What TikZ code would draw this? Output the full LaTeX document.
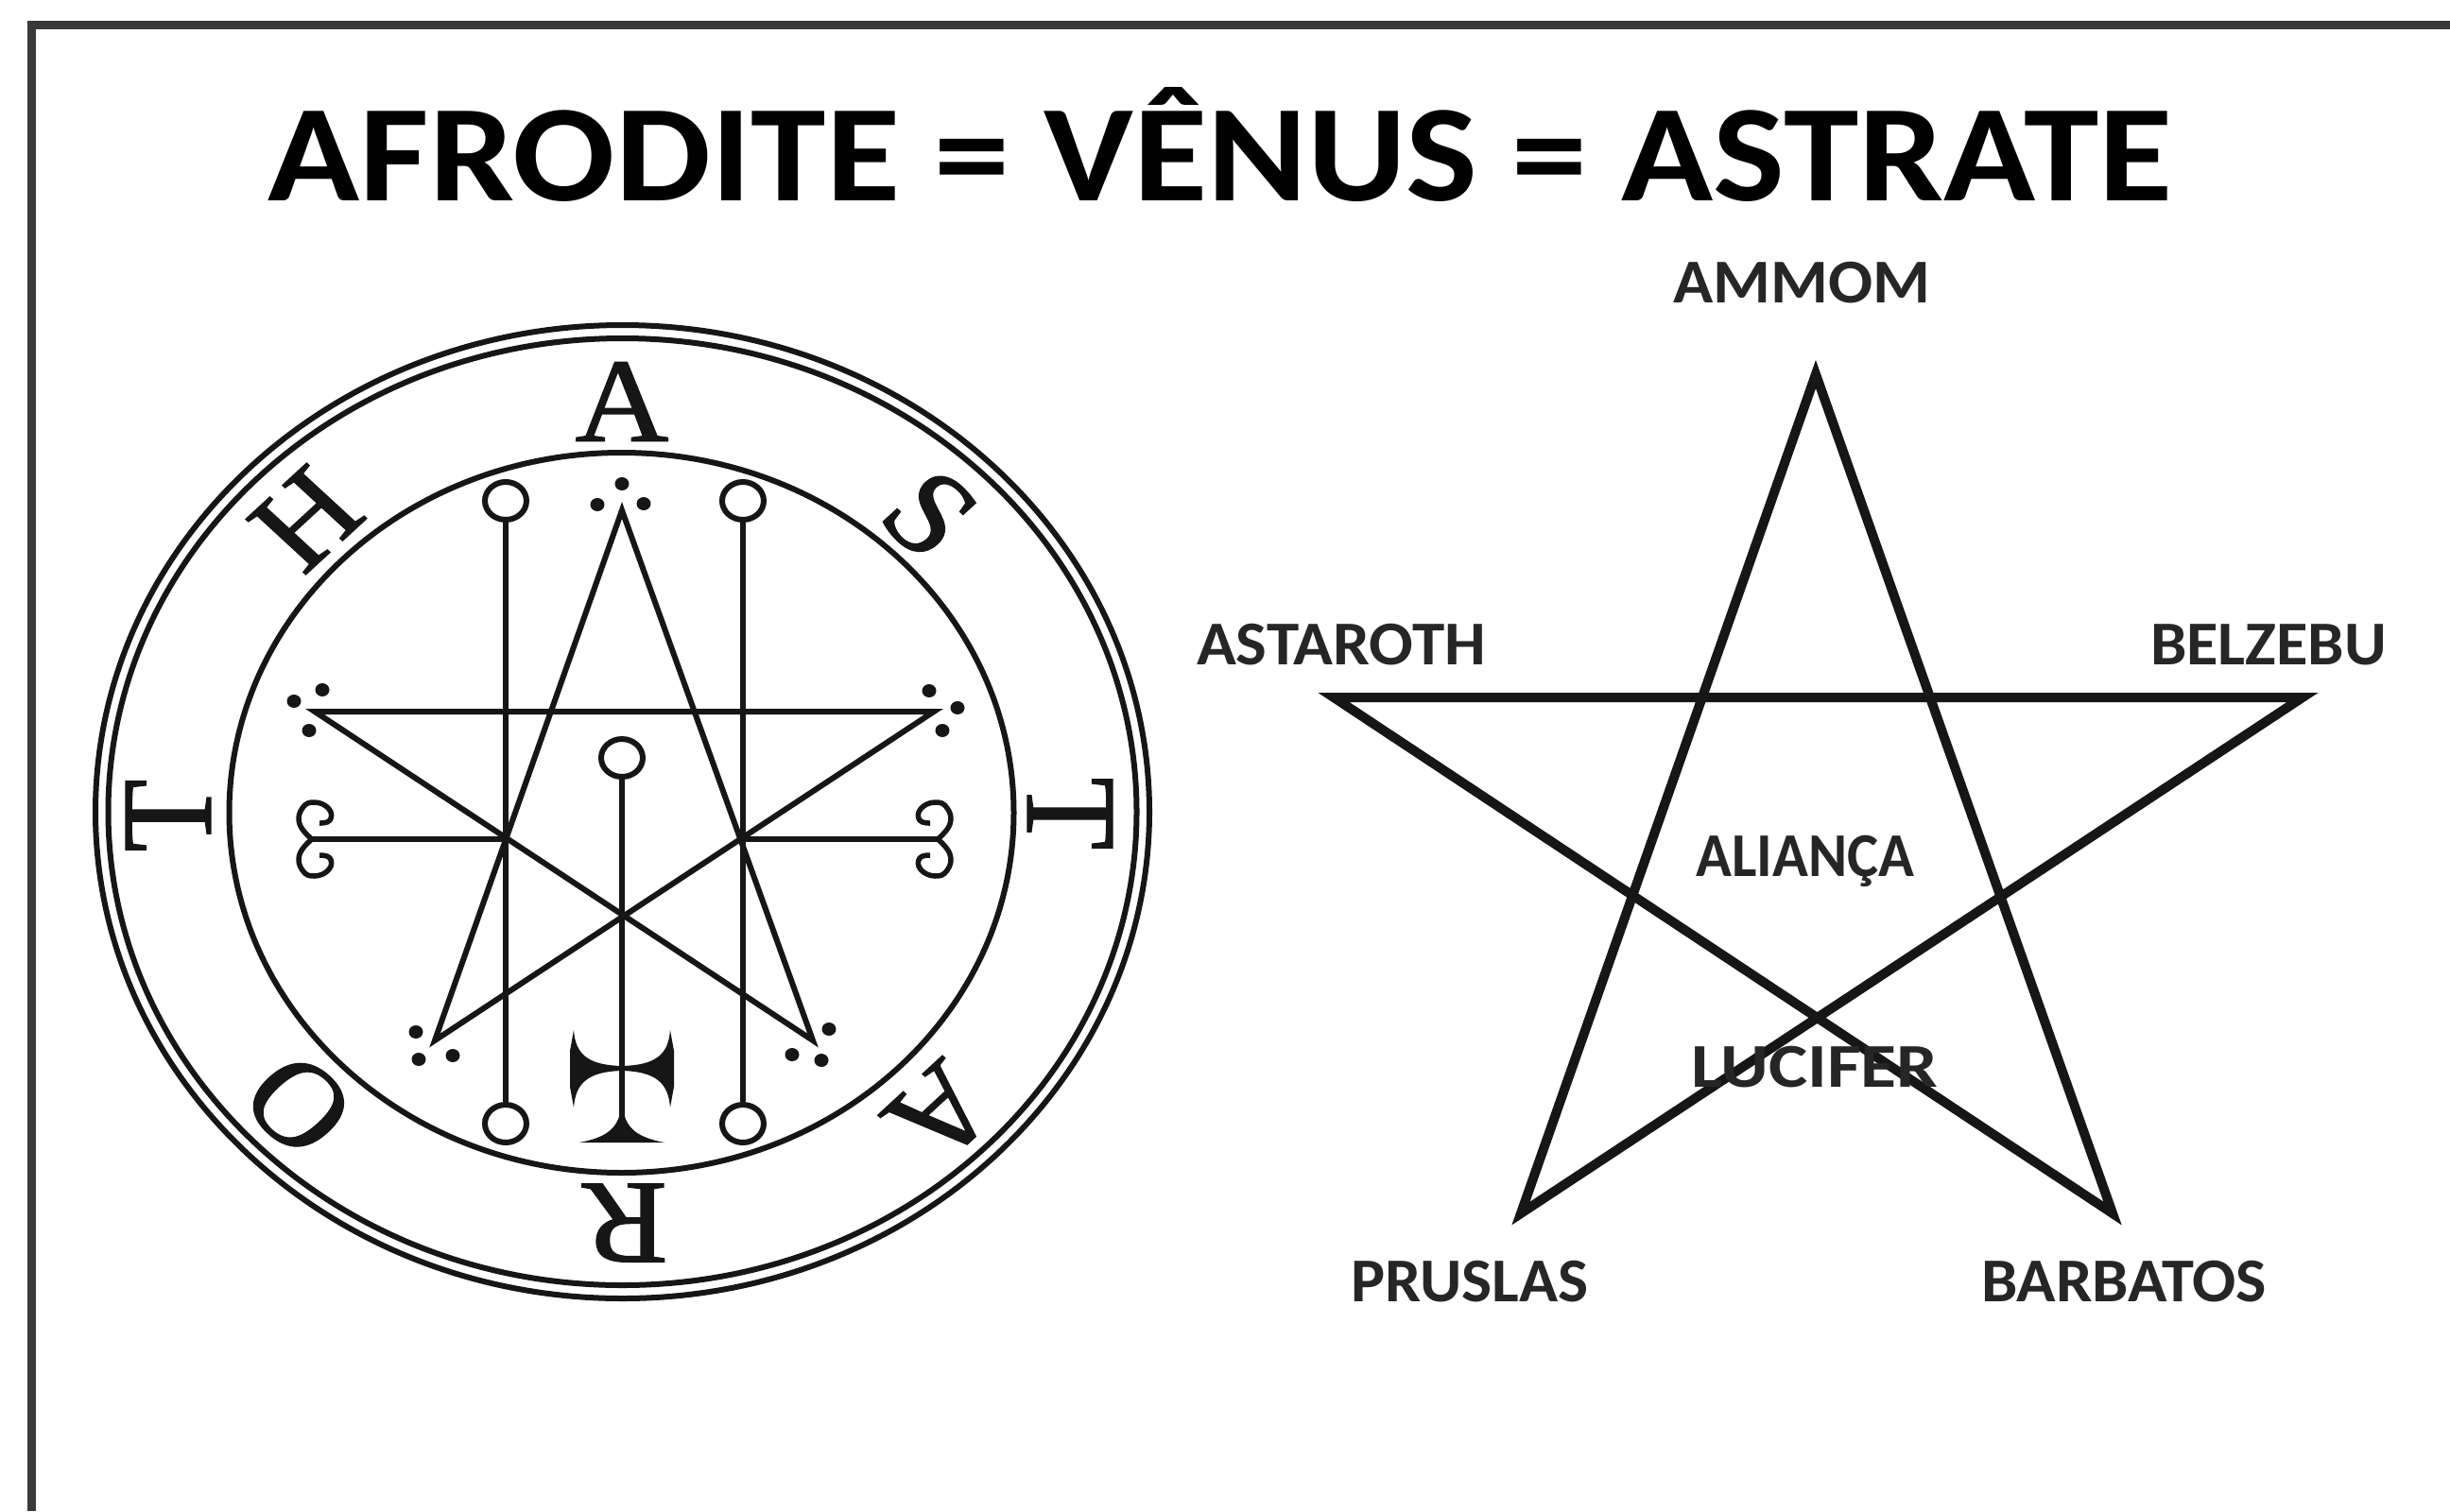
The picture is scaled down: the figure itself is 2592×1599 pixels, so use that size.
\documentclass[tikz,border=0pt]{standalone}
\usepackage{fontspec}
\usepackage{graphicx}
\setmainfont{Carlito}
\newfontfamily\sigilfont{Liberation Serif}[RawFeature={embolden=1.2}]
\usetikzlibrary{shapes.geometric}
\definecolor{ink}{HTML}{161616}
\definecolor{labelink}{HTML}{262626}
\definecolor{framegrey}{HTML}{3A3A3A}
\newcommand{\fitlabel}[2]{\resizebox{#1pt}{\height}{\fontsize{66}{66}\selectfont\bfseries #2}}
\newcommand{\sigilletter}[2]{\scalebox{1.085}[1]{\rotatebox{#1}{\fontsize{126}{126}\sigilfont #2}}}
\tikzset{
  x=1pt,y=-1pt,
  sigilline/.style={draw=ink,line width=6pt,line cap=butt},
  ring/.style={draw=ink,line width=6pt},
  knob/.style={draw=ink,line width=6pt,ellipse,fill=white,minimum width=44pt,minimum height=40pt,inner sep=0pt},
  pip/.style={fill=ink,draw=none},
  pentline/.style={draw=ink,line width=10pt,line join=miter,miter limit=30},
  starline/.style={draw=ink,line width=6pt,line join=miter,miter limit=10},
  biglabel/.style={inner sep=0pt,anchor=base,text=labelink},
  letter/.style={inner sep=0pt,text=ink},
}
\begin{document}
\begin{tikzpicture}
\useasboundingbox (0,0) rectangle (2592,1599);
\fill[white] (0,0) rectangle (2592,1599);
% frame
\draw[framegrey,line width=9pt,line join=miter] (33,1599) -- (33,26) -- (2592,26);
% title
\node[inner sep=0pt,anchor=base,text=black] (title) at (1291,212)
  {\resizebox{2015pt}{\height}{\fontsize{146}{146}\selectfont\bfseries AFRODITE = VÊNUS = ASTRATE}};
% sigil rings
\draw[ring] (658.5,859) ellipse [x radius=557.5,y radius=515];
\draw[ring] (658.5,859) ellipse [x radius=544,y radius=501];
\draw[ring] (657.5,860) ellipse [x radius=415,y radius=381];
% letters
\node[letter] (l1) at (658,425) {\sigilletter{0}{A}};
\node[letter] (l2) at (984,544) {\sigilletter{-45}{S}};
\node[letter] (l3) at (1132,861) {\sigilletter{-90}{T}};
\node[letter] (l4) at (995,1178) {\sigilletter{-135}{A}};
\node[letter] (l5) at (661,1294) {\sigilletter{180}{R}};
\node[letter] (l6) at (316,1169) {\sigilletter{135}{O}};
\node[letter] (l7) at (178,863) {\sigilletter{90}{T}};
\node[letter] (l8) at (324,549) {\sigilletter{45}{H}};
% sigil star
\coordinate (sa) at (658,540);
\coordinate (sl) at (333,753);
\coordinate (sr) at (988,753);
\coordinate (sbl) at (460,1101);
\coordinate (sbr) at (860,1101);
\draw[starline] (sa) -- (sbl) -- (sr) -- (sl) -- (sbr) -- cycle;
% knobbed staves
\node[knob] (k1) at (535,530) {};
\node[knob] (k2) at (786,530) {};
\node[knob] (k3) at (535,1189) {};
\node[knob] (k4) at (786,1189) {};
\node[knob] (k5) at (658,802) {};
\draw[sigilline] (k1) -- (k3);
\draw[sigilline] (k2) -- (k4);
\coordinate (crossfoot) at (658,1206);
\draw[sigilline] (k5) -- (crossfoot);
% scrolled arms
\coordinate (scl) at (330,888);
\coordinate (scr) at (992,888);
\coordinate (il) at (534,888);
\coordinate (ir) at (782,888);
\draw[sigilline] (scl) -- (il);
\draw[sigilline] (scr) -- (ir);
\foreach \sx/\ox in {1/0,-1/1322}{
  \begin{scope}[shift={(\ox,0)},x=\sx pt]
    \draw[draw=ink,line width=5.5pt] plot[smooth,tension=0.8] coordinates {(330,888) (317,872) (320,855) (333,849) (348,856) (349,868) (338,871)};
    \draw[draw=ink,line width=5.5pt] plot[smooth,tension=0.8] coordinates {(330,888) (317,904) (320,921) (333,927) (348,920) (349,908) (338,905)};
  \end{scope}
}
% cross
\fill[ink] (607,1090) .. controls (609,1116) and (622,1127) .. (658,1128) -- (658,1133) .. controls (622,1134) and (609,1146) .. (607,1172) -- (603,1150) -- (603,1112) -- cycle;
\fill[ink] (709,1090) .. controls (707,1116) and (694,1127) .. (658,1128) -- (658,1133) .. controls (694,1134) and (707,1146) .. (709,1172) -- (713,1150) -- (713,1112) -- cycle;
\fill[ink] (613,1209) .. controls (640,1204) and (652,1195) .. (656,1178) -- (660,1178) .. controls (664,1195) and (676,1204) .. (703,1209) -- cycle;
% pips
\foreach \px/\py in {658/512,632/534,681/533,
                     311/742,341/730,327/773,
                     1013/749,983/731,997/773,
                     440/1092,443/1121,479/1117,
                     877/1089,869/1122,838/1116}{
  \fill[pip] (\px,\py) ellipse [x radius=7.5,y radius=7];
}
% pentagram
\coordinate (pa) at (1921,396);
\coordinate (pl) at (1411,738);
\coordinate (pr) at (2436,738);
\coordinate (pbl) at (1609,1284);
\coordinate (pbr) at (2235,1284);
\draw[pentline] (pa) -- (pbl) -- (pr) -- (pl) -- (pbr) -- cycle;
% labels
\node[biglabel] (ammom) at (1906,320) {\fitlabel{272}{AMMOM}};
\node[biglabel] (astaroth) at (1419,703) {\fitlabel{306}{ASTAROTH}};
\node[biglabel] (belzebu) at (2400,703) {\fitlabel{250}{BELZEBU}};
\node[biglabel] (alianca) at (1910,927) {\fitlabel{231}{ALIANÇA}};
\node[biglabel] (lucifer) at (1920,1150) {\fitlabel{261}{LUCIFER}};
\node[biglabel] (pruslas) at (1555,1377) {\fitlabel{251}{PRUSLAS}};
\node[biglabel] (barbatos) at (2247,1377) {\fitlabel{302}{BARBATOS}};
\end{tikzpicture}
\end{document}
